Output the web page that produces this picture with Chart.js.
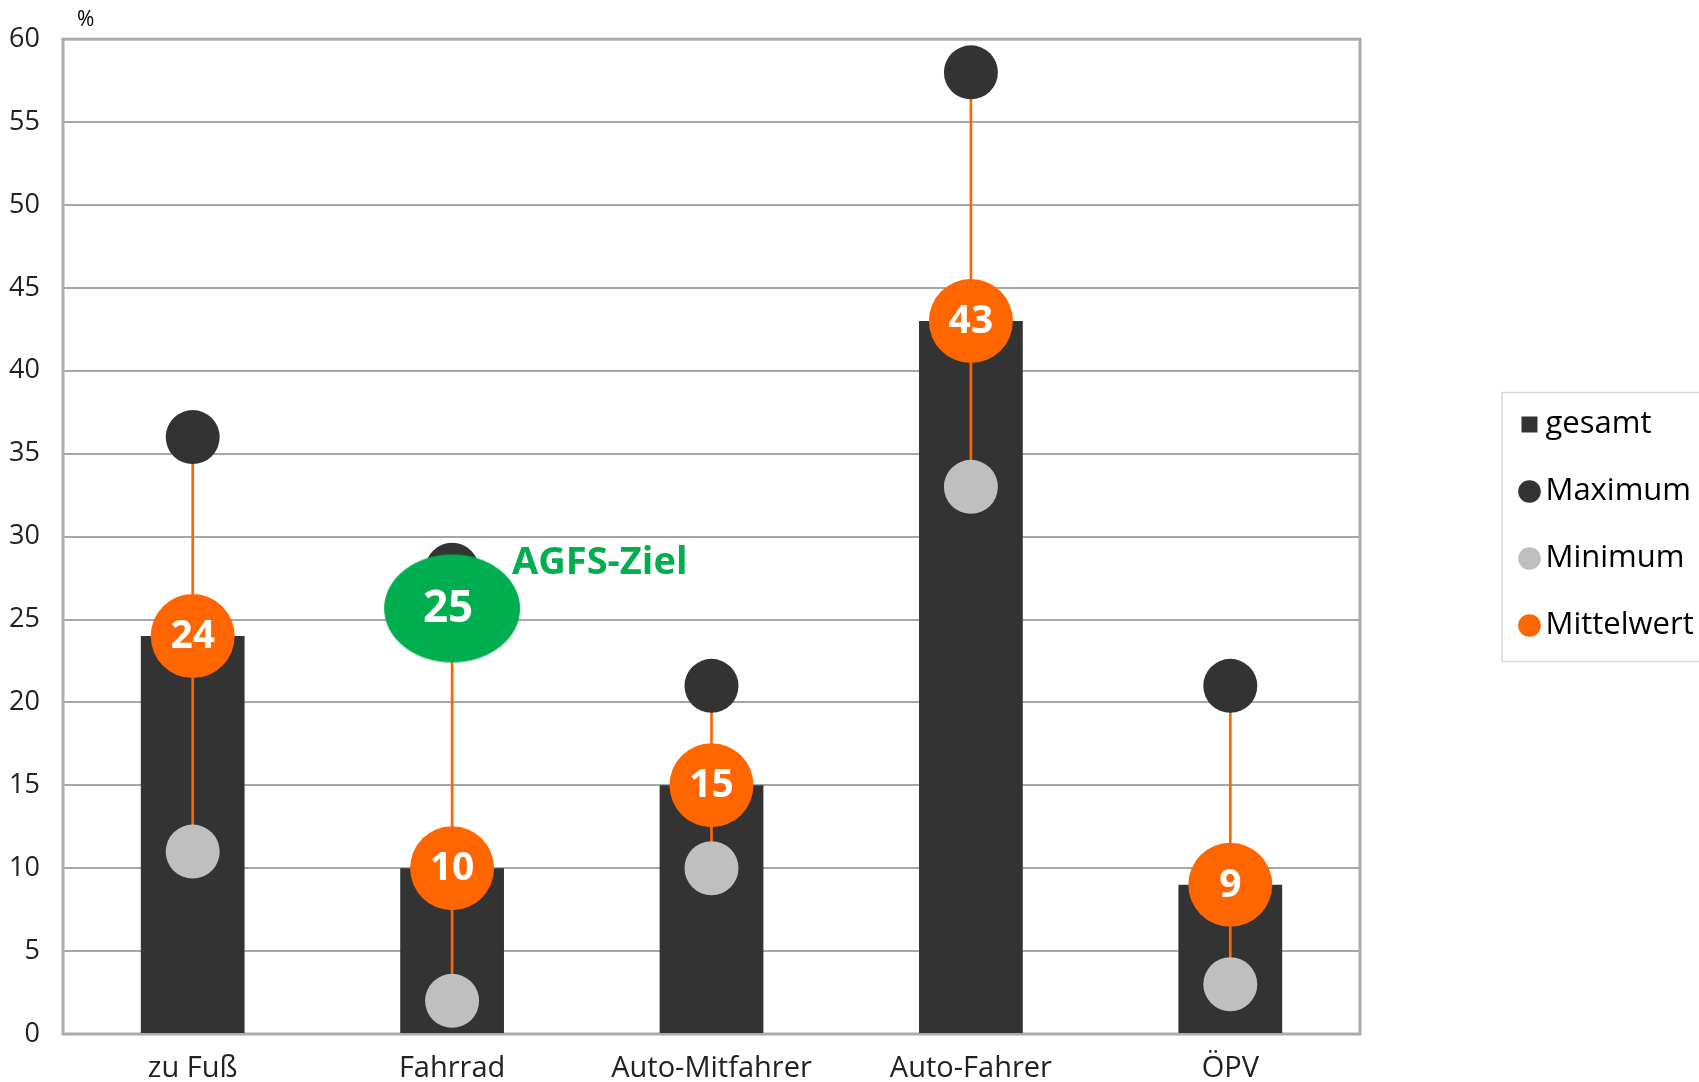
<!DOCTYPE html>
<html>
<head>
<meta charset="utf-8">
<script src="https://cdn.jsdelivr.net/npm/chart.js@4.4.0/dist/chart.umd.min.js"></script>
<style>
  html, body { margin: 0; padding: 0; background: #fff; }
  canvas { display: block; }
</style>
</head>
<body>
<canvas id="chart" width="1699" height="1082"></canvas>
<script>
const categories = ['zu Fuß', 'Fahrrad', 'Auto-Mitfahrer', 'Auto-Fahrer', 'ÖPV'];
const gesamt = [24, 10, 15, 43, 9];
const maximum = [36, 28, 21, 58, 21];
const minimum = [11, 2, 10, 33, 3];
const mittelwert = [24, 10, 15, 43, 9];
const agfsZiel = [null, 25, null, null, null];
const agfsLabel = 'AGFS-Ziel';
const yMin = 0, yMax = 60, yStep = 5;

const FONT = "'Open Sans', sans-serif";
const ORANGE = '#ff6600';
const GREEN = '#00ae4f';
const DARK = '#333333';
const LIGHT = '#bfbfbf';

// green ellipse used as point style for the target value (sits a little above the point)
const ellipse = document.createElement('canvas');
ellipse.width = 138;
ellipse.height = 132;
(function() {
    const c = ellipse.getContext('2d');
    c.fillStyle = GREEN;
    c.beginPath();
    c.ellipse(69, 55, 68, 54, 0, 0, Math.PI * 2);
    c.fill();
})();

const rangeData = categories.map((c, i) => [minimum[i], maximum[i]]);

const framePlugin = {
    id: 'frame',
    beforeDatasetsDraw(chart) {
        const a = chart.chartArea, ctx = chart.ctx;
        ctx.save();
        ctx.strokeStyle = '#ababab';
        ctx.lineWidth = 3;
        ctx.strokeRect(a.left, a.top, a.right - a.left, a.bottom - a.top);
        ctx.restore();
    },
    afterDatasetsDraw(chart) {
        const ctx = chart.ctx;
        ctx.save();
        ctx.textAlign = 'center';
        ctx.textBaseline = 'middle';
        ctx.fillStyle = '#fff';
        ctx.font = 'bold 39px ' + FONT;
        chart.getDatasetMeta(4).data.forEach((p, i) => {
            ctx.fillText(String(mittelwert[i]), p.x, p.y + 1);
        });
        chart.getDatasetMeta(5).data.forEach((p, i) => {
            if (agfsZiel[i] == null) return;
            ctx.fillStyle = '#fff';
            ctx.font = 'bold 44px ' + FONT;
            ctx.textAlign = 'center';
            ctx.fillText(String(agfsZiel[i]), p.x - 4, p.y - 10);
            ctx.fillStyle = GREEN;
            ctx.font = 'bold 38px ' + FONT;
            ctx.textAlign = 'left';
            ctx.fillText(agfsLabel, p.x + 60, p.y - 56);
        });
        ctx.restore();
    },
    afterDraw(chart) {
        const ctx = chart.ctx, a = chart.chartArea;
        ctx.save();
        ctx.fillStyle = '#000';
        ctx.font = '21px ' + FONT;
        ctx.textAlign = 'left';
        ctx.textBaseline = 'middle';
        ctx.fillText('%', a.left + 14, a.top - 19);
        // legend frame
        const boxes = chart.legend.legendHitBoxes;
        if (boxes && boxes.length) {
            const first = boxes[0], last = boxes[boxes.length - 1];
            const left = first.left - 27;
            const top = first.top + first.height / 2 - 32;
            const bottom = last.top + last.height / 2 + 36;
            ctx.strokeStyle = '#d9d9d9';
            ctx.lineWidth = 1.5;
            ctx.strokeRect(left, top, chart.width + 10 - left, bottom - top);
        }
        ctx.restore();
    }
};

new Chart(document.getElementById('chart'), {
    data: {
        labels: categories,
        datasets: [
            {
                type: 'bar', label: 'gesamt', data: gesamt,
                backgroundColor: DARK, borderWidth: 0, pointStyle: 'rect',
                grouped: false, barPercentage: 0.4, categoryPercentage: 1, order: 6
            },
            {
                type: 'bar', label: 'range', data: rangeData,
                backgroundColor: ORANGE, borderWidth: 0,
                grouped: false, barThickness: 2, order: 5
            },
            {
                type: 'line', label: 'Maximum', data: maximum, showLine: false,
                backgroundColor: DARK, borderColor: DARK, pointBackgroundColor: DARK,
                pointRadius: 27, pointHoverRadius: 27, pointBorderWidth: 0, order: 4
            },
            {
                type: 'line', label: 'Minimum', data: minimum, showLine: false,
                backgroundColor: LIGHT, borderColor: LIGHT, pointBackgroundColor: LIGHT,
                pointRadius: 27, pointHoverRadius: 27, pointBorderWidth: 0, order: 3
            },
            {
                type: 'line', label: 'Mittelwert', data: mittelwert, showLine: false,
                backgroundColor: ORANGE, borderColor: ORANGE, pointBackgroundColor: ORANGE,
                pointRadius: 42, pointHoverRadius: 42, pointBorderWidth: 0, order: 2
            },
            {
                type: 'line', label: agfsLabel, data: agfsZiel, showLine: false,
                pointStyle: ellipse, pointRadius: 60, order: 1
            }
        ]
    },
    options: {
        responsive: false,
        animation: false,
        layout: { autoPadding: false, padding: { top: 35, left: 0, right: 0, bottom: 0 } },
        plugins: {
            tooltip: { enabled: false },
            legend: {
                position: 'right',
                align: 'start',
                maxWidth: 206,
                title: { display: true, text: '', font: { size: 10, lineHeight: 1 }, padding: { top: 328, bottom: 0 } },
                labels: {
                    usePointStyle: true,
                    boxWidth: 1, boxHeight: 16,
                    padding: 36,
                    color: '#000',
                    font: { family: FONT, size: 31 },
                    sort: (a, b) => a.datasetIndex - b.datasetIndex,
                    filter: item => ['gesamt', 'Maximum', 'Minimum', 'Mittelwert'].includes(item.text)
                }
            }
        },
        scales: {
            x: {
                grid: { display: false },
                border: { display: false },
                ticks: { color: '#222', font: { family: FONT, size: 29 }, padding: 9 },
                afterFit: s => { s.height = 48; }
            },
            y: {
                min: yMin, max: yMax,
                grid: { color: '#a6a6a6', lineWidth: 2, drawTicks: false },
                border: { display: false },
                ticks: { stepSize: yStep, color: '#222', font: { family: FONT, size: 27 }, padding: 23 },
                afterFit: s => { s.width = 63; }
            },
            gap: {
                position: 'right', display: true,
                grid: { display: false }, border: { display: false },
                ticks: { display: false },
                afterFit: s => { s.width = 133; }
            }
        }
    },
    plugins: [framePlugin]
});
</script>
</body>
</html>
